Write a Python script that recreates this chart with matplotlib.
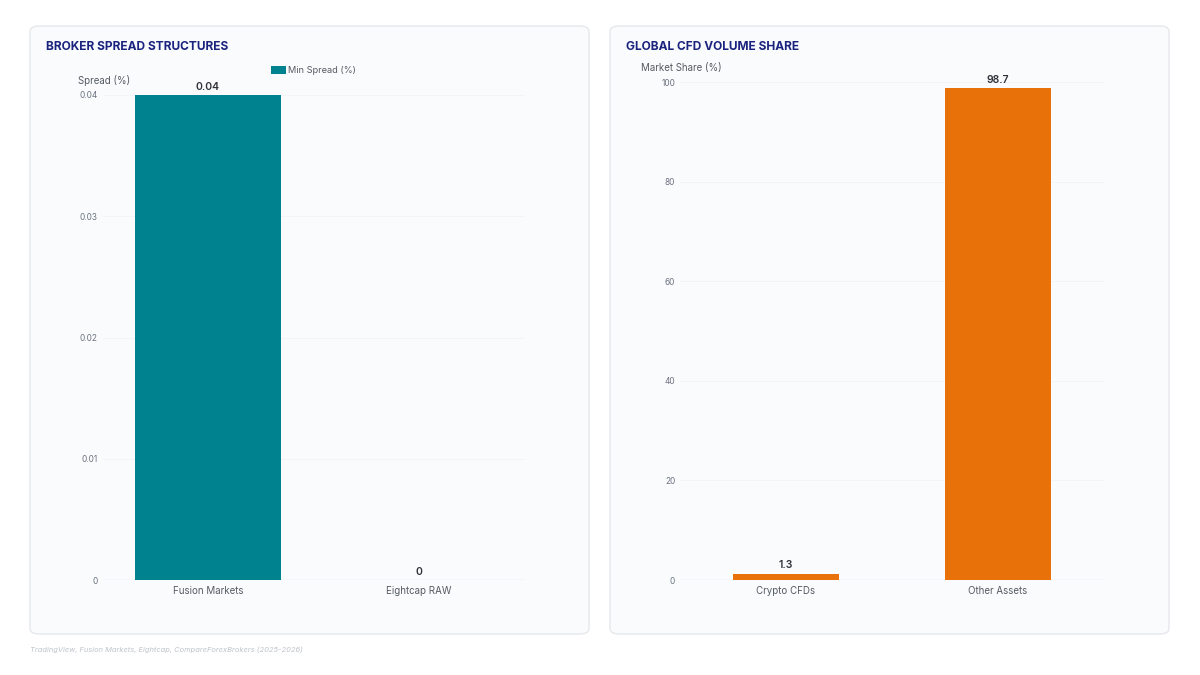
import matplotlib
matplotlib.use("Agg")
import matplotlib.pyplot as plt
from matplotlib.patches import FancyBboxPatch

plt.rcParams['font.family'] = ['Inter', 'DejaVu Sans']

# ---- data ----
brokers = ["Fusion Markets", "Eightcap RAW"]
min_spread = [0.04, 0.0]
spread_ticks = [0, 0.01, 0.02, 0.03, 0.04]
spread_ticklabels = ["0", "0.01", "0.02", "0.03", "0.04"]
spread_value_labels = ["0.04", "0"]

assets = ["Crypto CFDs", "Other Assets"]
volume_share = [1.3, 98.7]
share_ticks = [0, 20, 40, 60, 80, 100]
share_value_labels = ["1.3", "98.7"]

title_left = "BROKER SPREAD STRUCTURES"
title_right = "GLOBAL CFD VOLUME SHARE"
ylabel_left = "Spread (%)"
ylabel_right = "Market Share (%)"
legend_label = "Min Spread (%)"
source = "TradingView, Fusion Markets, Eightcap, CompareForexBrokers (2025-2026)"

TEAL = "#00838F"
ORANGE = "#E8710A"
NAVY = "#1A237E"
TICK = "#6B7280"
CAT = "#555B63"

W, H = 1200, 675
fig = plt.figure(figsize=(12, 6.75), dpi=100, facecolor="white")

def fx(x): return x / W
def fy(y): return 1 - y / H

# cards
for x0 in (30, 610):
    card = FancyBboxPatch((fx(x0), fy(634)), fx(559), 608 / H,
                          boxstyle="round,pad=0,rounding_size=0.008",
                          transform=fig.transFigure, facecolor="#FAFBFD",
                          edgecolor="#E6E8EC", linewidth=1.0, zorder=-10)
    fig.patches.append(card)

def make_ax(x0, x1, ytop, ybot):
    ax = fig.add_axes([fx(x0), fy(ybot), fx(x1 - x0), (ybot - ytop) / H])
    ax.set_zorder(1)
    ax.set_facecolor("none")
    for s in ax.spines.values():
        s.set_visible(False)
    ax.tick_params(axis="both", length=0)
    ax.tick_params(axis="y", labelsize=6, labelcolor=TICK, pad=3.5)
    ax.tick_params(axis="x", labelsize=7, labelcolor=CAT, pad=4)
    ax.set_xlim(-0.5, 1.5)
    return ax

# left chart
axl = make_ax(102.5, 524.5, 95, 580)
axl.set_ylim(0, 0.04)
axl.set_yticks(spread_ticks)
axl.set_yticklabels(spread_ticklabels)
axl.grid(axis="y", color="#F3F4F6", linewidth=0.7)
axl.set_axisbelow(True)
axl.axhline(0, color="#E3E6EA", linewidth=1.0, zorder=1)
axl.bar(range(len(brokers)), min_spread, width=0.69, color=TEAL, zorder=2,
        label=legend_label)
axl.set_xticks(range(len(brokers)))
axl.set_xticklabels(brokers)
for i, (v, t) in enumerate(zip(min_spread, spread_value_labels)):
    axl.annotate(t, (i, v), xytext=(0, 2), textcoords="offset points",
                 ha="center", va="bottom", fontsize=7.5, fontweight="semibold",
                 color="#2D3138", annotation_clip=False)

# right chart
axr = make_ax(680, 1104, 82, 580)
axr.set_ylim(0, 100)
axr.set_yticks(share_ticks)
axr.grid(axis="y", color="#F3F4F6", linewidth=0.7)
axr.set_axisbelow(True)
axr.axhline(0, color="#E3E6EA", linewidth=1.0, zorder=1)
axr.bar(range(len(assets)), volume_share, width=0.5, color=ORANGE, zorder=2)
axr.set_xticks(range(len(assets)))
axr.set_xticklabels(assets)
for i, (v, t) in enumerate(zip(volume_share, share_value_labels)):
    axr.annotate(t, (i, v), xytext=(0, 2.5), textcoords="offset points",
                 ha="center", va="bottom", fontsize=7.5, fontweight="semibold",
                 color="#2D3138", annotation_clip=False)

# titles
fig.text(fx(46), fy(47), title_left, fontsize=8.6, fontweight="bold", color=NAVY,
         ha="left", va="center")
fig.text(fx(626), fy(47), title_right, fontsize=8.6, fontweight="bold", color=NAVY,
         ha="left", va="center")

# axis titles
fig.text(fx(78), fy(80), ylabel_left, fontsize=7, color=CAT, ha="left", va="center")
fig.text(fx(641), fy(68), ylabel_right, fontsize=7, color=CAT, ha="left", va="center")

# legend
leg = axl.legend(loc="upper left", bbox_to_anchor=(fx(271), fy(66)),
                 bbox_transform=fig.transFigure, frameon=False, fontsize=6.6,
                 handlelength=1.6, handleheight=0.9, handletextpad=0.3,
                 borderaxespad=0, borderpad=0)
for t in leg.get_texts():
    t.set_color(CAT)

# source
fig.text(fx(30), fy(650), source, fontsize=5.4, style="italic", color="#BFC3C9",
         ha="left", va="center")

fig.savefig("out.png", dpi=100, facecolor="white")
